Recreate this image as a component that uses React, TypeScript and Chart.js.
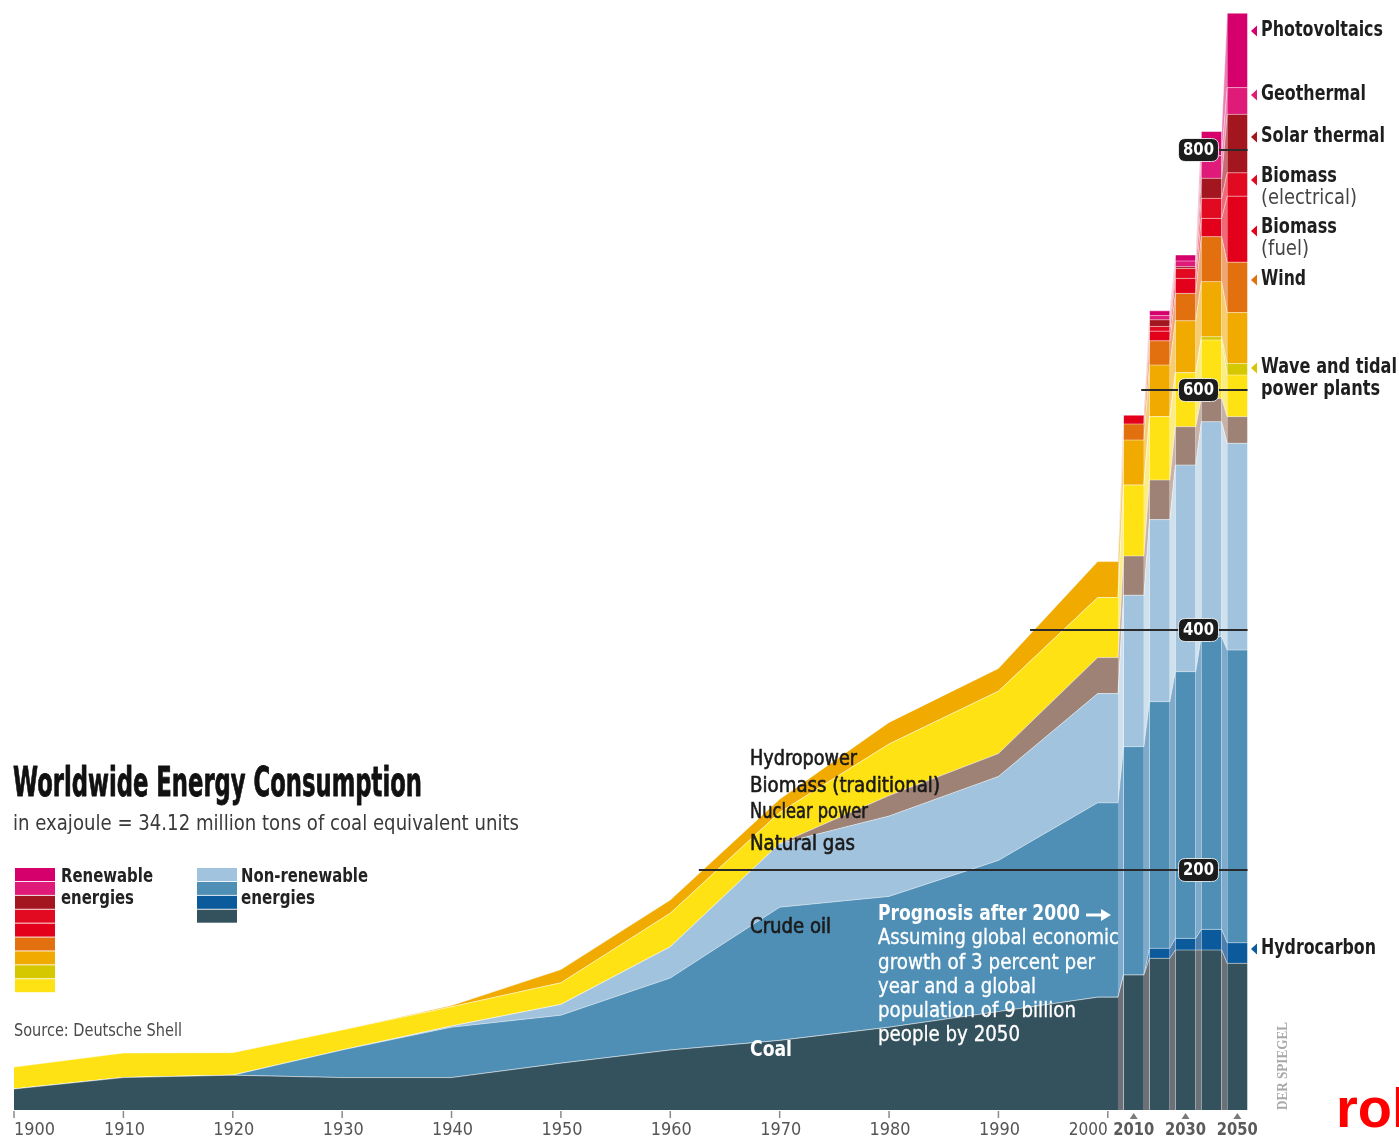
import React, { useEffect, useRef } from 'react';
import { Chart, registerables } from 'chart.js';

Chart.register(...registerables);

// ---------------- DATA ----------------
const historyYears = [1900, 1910, 1920, 1930, 1940, 1950, 1960, 1970, 1980, 1990];
const plateauYears = [2000, 2010, 2020, 2030, 2040, 2050];
const tickYears = [1900, 1910, 1920, 1930, 1940, 1950, 1960, 1970, 1980, 1990, 2000];
const futureTickYears = [2010, 2030, 2050];
const gridLevels = [200, 400, 600, 800];

// values in exajoule: 10 historic decades, then 2000..2050
const coal = [17.5, 27, 29, 27, 27, 39, 50, 58, 69, 82, 94, 112.5, 126.4, 133.3, 133.3, 122.2];
const hydrocarbon = [0, 0, 0, 0, 0, 0, 0, 0, 0, 0, 0, 0, 8.3, 9.7, 17.2, 17.2];
const crudeOil = [0, 0, 0, 23, 42, 40, 60, 111, 109, 126, 162, 190.3, 205.6, 222.3, 243.9, 243.9];
const naturalGas = [0, 0, 0, 0, 1, 9, 26, 53, 67, 70, 91, 126.2, 151.7, 172.2, 179.2, 172.3];
const nuclear = [0, 0, 0, 0, 0, 0, 0, 0, 17, 19, 30, 32.7, 33, 31.9, 19.4, 22.2];
const biomassTraditional = [18.3, 20.5, 18.8, 16.7, 16, 18, 28, 26, 43, 52, 50, 59.1, 52.8, 45, 48.7, 34.7];
const waveTidal = [0, 0, 0, 0, 0, 0, 0, 0, 0, 0, 0, 0, 0, 0, 2.7, 9.5];
const hydropower = [0, 0, 0, 0, 1, 11, 11, 11, 18, 19, 30, 37.5, 43, 43.3, 45.9, 42.5];
const wind = [0, 0, 0, 0, 0, 0, 0, 0, 0, 0, 0, 13.4, 20.2, 22.8, 37.5, 42];
const biomassFuel = [0, 0, 0, 0, 0, 0, 0, 0, 0, 0, 0, 7.3, 8, 12.5, 15.2, 55];
const biomassElectrical = [0, 0, 0, 0, 0, 0, 0, 0, 0, 0, 0, 0, 4, 8.3, 16.7, 19.5];
const solarThermal = [0, 0, 0, 0, 0, 0, 0, 0, 0, 0, 0, 0, 5.5, 1.5, 16.7, 48.7];
const geothermal = [0, 0, 0, 0, 0, 0, 0, 0, 0, 0, 0, 0, 3.5, 4.7, 19, 22.3];
const photovoltaics = [0, 0, 0, 0, 0, 0, 0, 0, 0, 0, 0, 0, 4, 5, 20, 62];

const series = [
  { label: 'Coal', data: coal, color: '#34525e', gap: '#6b7176' },
  { label: 'Hydrocarbon', data: hydrocarbon, color: '#0b5a9c', gap: '#4f7fae' },
  { label: 'Crude oil', data: crudeOil, color: '#4f8fb6', gap: '#7eaacb' },
  { label: 'Natural gas', data: naturalGas, color: '#a2c3dd', gap: '#d0e1ee' },
  { label: 'Nuclear power', data: nuclear, color: '#9e8275', gap: '#c8b2a8' },
  { label: 'Biomass (traditional)', data: biomassTraditional, color: '#ffe214', gap: '#fcec84' },
  { label: 'Wave and tidal', data: waveTidal, color: '#d6c800', gap: '#e8df74' },
  { label: 'Hydropower', data: hydropower, color: '#f0aa00', gap: '#f6cd70' },
  { label: 'Wind', data: wind, color: '#e2700f', gap: '#eea774' },
  { label: 'Biomass (fuel)', data: biomassFuel, color: '#e2001a', gap: '#ee6a78' },
  { label: 'Biomass (electrical)', data: biomassElectrical, color: '#e10a20', gap: '#ee6a78' },
  { label: 'Solar thermal', data: solarThermal, color: '#a3161f', gap: '#c96c72' },
  { label: 'Geothermal', data: geothermal, color: '#df1a78', gap: '#ef86b6' },
  { label: 'Photovoltaics', data: photovoltaics, color: '#d5006b', gap: '#ea7eb2' },
];

// ---------------- GEOMETRY HELPERS ----------------
const FUTURE_COMPRESS = 0.2369; // decades after 2000 are drawn compressed
const PLATEAU_HALF = 0.93; // half width of a forecast column, in axis units
const X_MIN = 1900;
const X_MAX = 2013;
const Y_MAX = 920;
const H = historyYears.length;

const xPos = (year: number) => (year <= 2000 ? year : 2000 + (year - 2000) * FUTURE_COMPRESS);

function buildPoints(values: number[]) {
  const pts: { x: number; y: number }[] = [];
  historyYears.forEach((yr, i) => pts.push({ x: yr, y: values[i] }));
  plateauYears.forEach((yr, k) => {
    const v = values[H + k];
    const c = xPos(yr);
    pts.push({ x: c - PLATEAU_HALF, y: v }, { x: c + PLATEAU_HALF, y: v });
  });
  return pts;
}

const isGap = (ctx: any) => ctx.p0DataIndex >= H && (ctx.p0DataIndex - H) % 2 === 1;

const FONT = "'Liberation Sans Narrow', 'DejaVu Sans Condensed', 'Roboto', sans-serif";

function txt(
  ctx: CanvasRenderingContext2D,
  s: string,
  x: number,
  y: number,
  size: number,
  weight: string,
  color: string,
  width?: number,
  align: 'left' | 'center' | 'right' = 'left',
  family: string = FONT,
  stroke = 0
) {
  ctx.save();
  ctx.font = `${weight} ${size}px ${family}`;
  ctx.fillStyle = color;
  ctx.textBaseline = 'middle';
  ctx.textAlign = 'left';
  const m = ctx.measureText(s).width;
  const sx = width ? width / m : 1;
  const w = m * sx;
  let ox = x;
  if (align === 'center') ox = x - w / 2;
  else if (align === 'right') ox = x - w;
  ctx.translate(ox, y);
  ctx.scale(sx, 1);
  ctx.fillText(s, 0, 0);
  if (stroke > 0) {
    ctx.strokeStyle = color;
    ctx.lineWidth = stroke;
    ctx.lineJoin = 'round';
    ctx.strokeText(s, 0, 0);
  }
  ctx.restore();
}

function roundRect(ctx: CanvasRenderingContext2D, x: number, y: number, w: number, h: number, r: number) {
  ctx.beginPath();
  ctx.moveTo(x + r, y);
  ctx.lineTo(x + w - r, y);
  ctx.quadraticCurveTo(x + w, y, x + w, y + r);
  ctx.lineTo(x + w, y + h - r);
  ctx.quadraticCurveTo(x + w, y + h, x + w - r, y + h);
  ctx.lineTo(x + r, y + h);
  ctx.quadraticCurveTo(x, y + h, x, y + h - r);
  ctx.lineTo(x, y + r);
  ctx.quadraticCurveTo(x, y, x + r, y);
  ctx.closePath();
}

const overlayPlugin = {
  id: 'overlay',
  afterDatasetsDraw(chart: any) {
    const ctx: CanvasRenderingContext2D = chart.ctx;
    const xs = chart.scales.x;
    const ys = chart.scales.y;
    const topMeta = chart.getDatasetMeta(series.length - 1);
    const pts = topMeta.data;
    const rightEdge = xs.getPixelForValue(xPos(2050) + PLATEAU_HALF);
    const badgeX = xs.getPixelForValue((xPos(2030) + xPos(2040)) / 2);

    // reference lines with value badges
    gridLevels.forEach((lvl) => {
      const py = ys.getPixelForValue(lvl);
      let startX = rightEdge;
      for (let i = 1; i < pts.length; i++) {
        const a = pts[i - 1];
        const b = pts[i];
        if (a.y > py && b.y <= py) {
          startX = a.x + ((a.y - py) / (a.y - b.y)) * (b.x - a.x);
          break;
        }
      }
      ctx.save();
      ctx.strokeStyle = '#2a2a2a';
      ctx.lineWidth = 2;
      ctx.beginPath();
      ctx.moveTo(startX - 4, py);
      ctx.lineTo(rightEdge, py);
      ctx.stroke();
      roundRect(ctx, badgeX - 20, py - 11.5, 40, 23, 7);
      ctx.fillStyle = '#1c1c1c';
      ctx.fill();
      ctx.strokeStyle = 'rgba(255,255,255,0.8)';
      ctx.lineWidth = 1;
      ctx.stroke();
      ctx.restore();
      txt(ctx, String(lvl), badgeX, py + 0.5, 17, 'bold', '#ffffff', 31, 'center');
    });

    // x axis ticks & labels
    const axisY = ys.getPixelForValue(0);
    ctx.save();
    ctx.strokeStyle = '#8a8a8a';
    ctx.lineWidth = 1.5;
    tickYears.forEach((yr) => {
      const px = xs.getPixelForValue(yr);
      ctx.beginPath();
      ctx.moveTo(px, axisY + 1);
      ctx.lineTo(px, axisY + 8);
      ctx.stroke();
    });
    ctx.fillStyle = '#7a7a7a';
    futureTickYears.forEach((yr) => {
      const px = xs.getPixelForValue(xPos(yr));
      ctx.beginPath();
      ctx.moveTo(px, axisY + 3);
      ctx.lineTo(px + 4, axisY + 9);
      ctx.lineTo(px - 4, axisY + 9);
      ctx.closePath();
      ctx.fill();
    });
    ctx.restore();
    tickYears.forEach((yr) => {
      const px = xs.getPixelForValue(yr);
      if (yr === 1900) txt(ctx, String(yr), px, axisY + 20, 18, 'normal', '#555', 41, 'left');
      else if (yr === 2000) txt(ctx, String(yr), px, axisY + 20, 18, 'normal', '#555', 39, 'right');
      else txt(ctx, String(yr), px + 1, axisY + 20, 18, 'normal', '#555', 41, 'center');
    });
    futureTickYears.forEach((yr) => {
      const px = xs.getPixelForValue(xPos(yr));
      txt(ctx, String(yr), px, axisY + 20, 18, 'bold', '#5a5a5a', 41, 'center');
    });

    // labels inside the area
    const F = FONT;
    txt(ctx, 'Hydropower', 750, 760, 21, 'normal', '#1a1a1a', 107, 'left', F, 0.6);
    txt(ctx, 'Biomass (traditional)', 750, 787, 21, 'normal', '#1a1a1a', 190, 'left', F, 0.6);
    txt(ctx, 'Nuclear power', 750, 813, 21, 'normal', '#1a1a1a', 118, 'left', F, 0.6);
    txt(ctx, 'Natural gas', 750, 845, 21, 'normal', '#1a1a1a', 105, 'left', F, 0.6);
    txt(ctx, 'Crude oil', 750, 928, 21, 'normal', '#1a1a1a', 81, 'left', F, 0.6);
    txt(ctx, 'Coal', 750, 1051, 21, 'bold', '#ffffff', 42);

    txt(ctx, 'Prognosis after 2000', 878, 915, 21, 'bold', '#ffffff', 202);
    ctx.save();
    ctx.strokeStyle = '#ffffff';
    ctx.fillStyle = '#ffffff';
    ctx.lineWidth = 3;
    ctx.beginPath();
    ctx.moveTo(1086, 915);
    ctx.lineTo(1103, 915);
    ctx.stroke();
    ctx.beginPath();
    ctx.moveTo(1111, 915);
    ctx.lineTo(1101, 909);
    ctx.lineTo(1101, 921);
    ctx.closePath();
    ctx.fill();
    ctx.restore();
    const progLines: [string, number][] = [
      ['Assuming global economic', 241],
      ['growth of 3 percent per', 217],
      ['year and a global', 158],
      ['population of 9 billion', 198],
      ['people by 2050', 142],
    ];
    progLines.forEach(([s, w], i) => txt(ctx, s, 878, 939 + i * 24.2, 21, 'normal', '#ffffff', w, 'left', F, 0.3));
  },
  afterDraw(chart: any) {
    const ctx: CanvasRenderingContext2D = chart.ctx;

    // title block
    txt(ctx, 'Worldwide Energy Consumption', 13, 786, 40, 'bold', '#111111', 409, 'left', FONT, 0.8);
    txt(ctx, 'in exajoule = 34.12 million tons of coal equivalent units', 13, 824, 22, 'normal', '#3a3a3a', 506);

    // legend
    const renewOrder = [13, 12, 11, 10, 9, 8, 7, 6, 5];
    renewOrder.forEach((si, i) => {
      ctx.fillStyle = series[si].color;
      ctx.fillRect(15, 868 + i * 13.9, 40, 13);
    });
    const nonRenewOrder = [3, 2, 1, 0];
    nonRenewOrder.forEach((si, i) => {
      ctx.fillStyle = series[si].color;
      ctx.fillRect(197, 868 + i * 13.9, 40, 13);
    });
    txt(ctx, 'Renewable', 61, 877, 19, 'bold', '#222', 92);
    txt(ctx, 'energies', 61, 899, 19, 'bold', '#222', 73);
    txt(ctx, 'Non-renewable', 241, 877, 19, 'bold', '#222', 127);
    txt(ctx, 'energies', 241, 899, 19, 'bold', '#222', 74);

    txt(ctx, 'Source: Deutsche Shell', 14, 1032, 17, 'normal', '#4a4a4a', 168);

    // right-hand labels
    const rightLabels: { t: string; sub?: string; y: number; w: number; sw?: number; si: number }[] = [
      { t: 'Photovoltaics', y: 31, w: 122, si: 13 },
      { t: 'Geothermal', y: 95, w: 105, si: 12 },
      { t: 'Solar thermal', y: 137, w: 124, si: 11 },
      { t: 'Biomass', sub: '(electrical)', y: 177, w: 76, sw: 96, si: 10 },
      { t: 'Biomass', sub: '(fuel)', y: 228, w: 76, sw: 48, si: 9 },
      { t: 'Wind', y: 280, w: 45, si: 8 },
      { t: 'Wave and tidal', sub: 'power plants', y: 368, w: 136, sw: 119, si: 6 },
      { t: 'Hydrocarbon', y: 949, w: 115, si: 1 },
    ];
    rightLabels.forEach((l) => {
      const ty = l.sub && l.si !== 6 ? l.y + 3 : l.y;
      ctx.fillStyle = series[l.si].color;
      ctx.beginPath();
      ctx.moveTo(1251, ty);
      ctx.lineTo(1257, ty - 5.5);
      ctx.lineTo(1257, ty + 5.5);
      ctx.closePath();
      ctx.fill();
      txt(ctx, l.t, 1261, l.y, 21, 'bold', '#1e1e1e', l.w);
      if (l.sub) {
        const subColor = l.si === 6 ? '#1e1e1e' : '#444';
        const subWeight = l.si === 6 ? 'bold' : 'normal';
        txt(ctx, l.sub, 1261, l.y + 21.5, 21, subWeight, subColor, l.sw);
      }
    });

    // publisher mark
    ctx.save();
    ctx.translate(1283, 1066);
    ctx.rotate(-Math.PI / 2);
    txt(ctx, 'DER SPIEGEL', 0, 0, 15, 'bold', '#a8a8a8', 88, 'center', "'Liberation Serif', 'DejaVu Serif', serif");
    ctx.restore();

    ctx.save();
    ctx.font = "bold 56px 'Liberation Sans', Arial, sans-serif";
    ctx.fillStyle = '#ff0000';
    ctx.textBaseline = 'alphabetic';
    ctx.fillText('rol', 1336, 1127);
    ctx.restore();
  },
};

export default function App() {
  const ref = useRef<HTMLCanvasElement | null>(null);

  useEffect(() => {
    if (!ref.current) return;
    const datasets = series.map((s, i) => ({
      label: s.label,
      data: buildPoints(s.data),
      backgroundColor: s.color,
      borderColor: 'rgba(255,255,255,0.45)',
      borderWidth: 1,
      pointRadius: 0,
      tension: 0,
      fill: i === 0 ? 'origin' : '-1',
      segment: {
        backgroundColor: (ctx: any) => (isGap(ctx) ? s.gap : undefined),
      },
    }));
    const chart = new Chart(ref.current, {
      type: 'line',
      data: { datasets: datasets as any },
      options: {
        animation: false,
        responsive: false,
        devicePixelRatio: 1,
        layout: { padding: { left: 14, right: 149, top: 6, bottom: 31 } },
        scales: {
          x: { type: 'linear', min: X_MIN, max: X_MAX, display: false },
          y: { type: 'linear', stacked: true, min: 0, max: Y_MAX, display: false },
        },
        plugins: {
          legend: { display: false },
          tooltip: { enabled: false },
        },
        elements: { point: { radius: 0 }, line: { tension: 0 } },
      },
      plugins: [overlayPlugin],
    });
    return () => chart.destroy();
  }, []);

  return (
    <div style={{ position: 'absolute', left: 0, top: 0, width: 1399, height: 1141, background: '#ffffff', overflow: 'hidden' }}>
      <canvas ref={ref} width={1399} height={1141} style={{ display: 'block', width: 1399, height: 1141 }} />
    </div>
  );
}
